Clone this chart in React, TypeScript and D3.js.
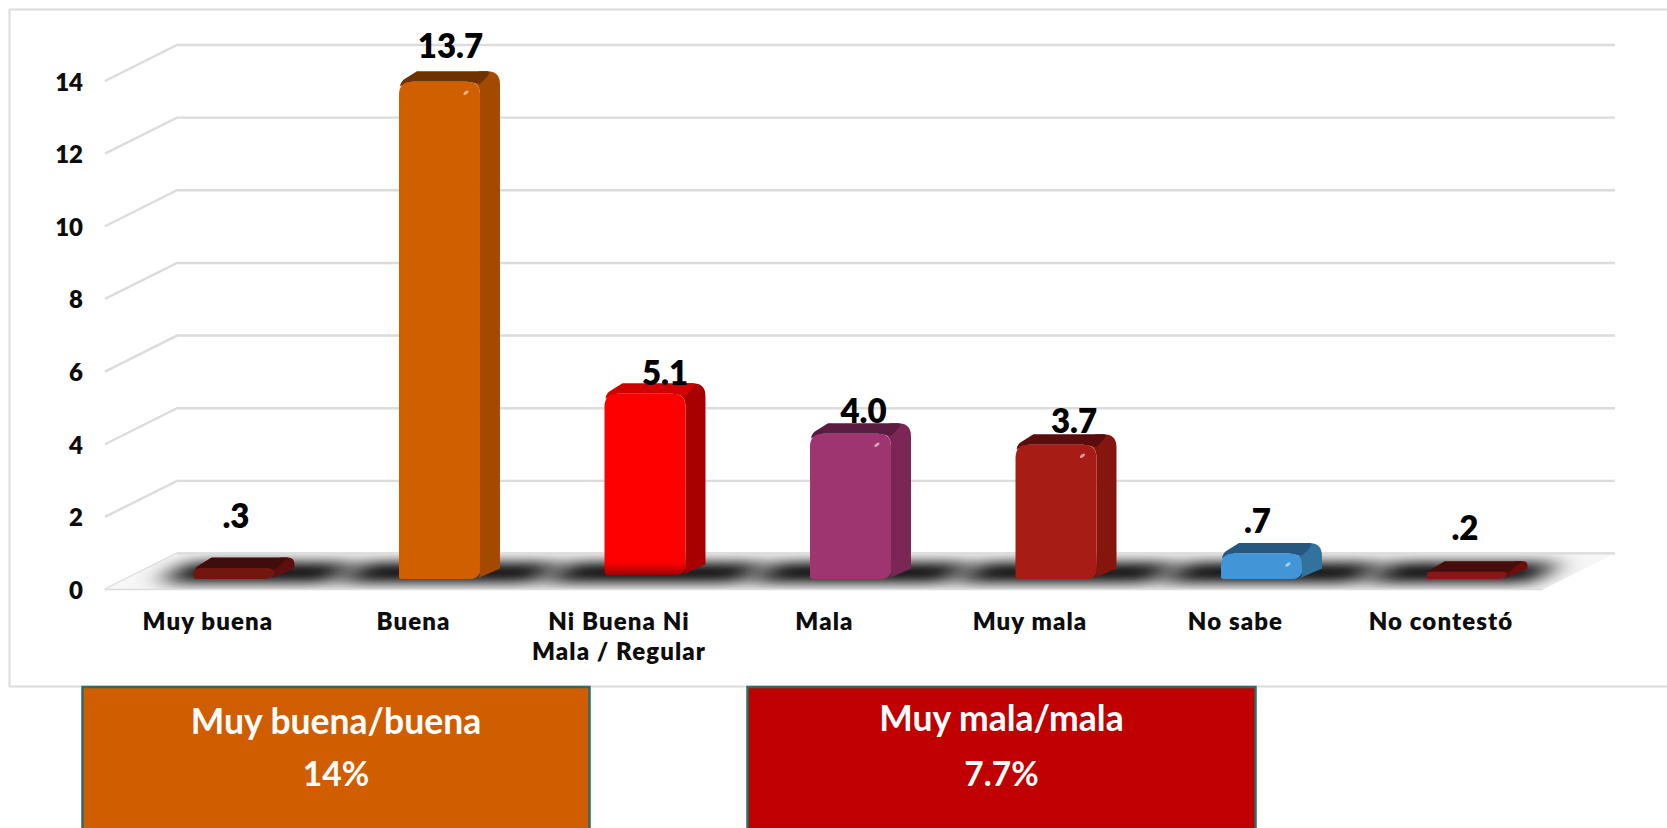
import React from "react";
import * as d3 from "d3";

const categories = ["Muy buena", "Buena", "Ni Buena Ni|Mala / Regular", "Mala", "Muy mala", "No sabe", "No contestó"];
const values = [0.3, 13.7, 5.1, 4.0, 3.7, 0.7, 0.2];
const valueLabels = [".3", "13.7", "5.1", "4.0", "3.7", ".7", ".2"];
const labelDx = [2, 11, 20, 13, 18, -4, -2];
const labelDy = [40, 24, 9, 11, 12, 21, 32];
const frontColors = ["#731410", "#D05E00", "#FF0000", "#9E3470", "#A81C17", "#4396D8", "#8A1712"];
const sideColors = ["#5F100D", "#A44A00", "#A80000", "#7B2856", "#84150F", "#33729F", "#6E110D"];
const topColors = ["#3F0A08", "#6E3200", "#D00000", "#5A1C40", "#5A0E0A", "#27597F", "#470B08"];
const yTicks = [0, 2, 4, 6, 8, 10, 12, 14];
const boxTitles = ["Muy buena/buena", "Muy mala/mala"];
const boxValues = ["14%", "7.7%"];
const boxColors = ["#D05E00", "#C00000"];

const W = 1667, H = 828;
const DX = 72, DY = 36;
const wallLeft = 177, wallRight = 1615;
const backY = d3.scaleLinear().domain([0, 14]).range([553.5, 45]);
const barBase = 579;
const barY = d3.scaleLinear().domain([0, 14]).range([barBase, barBase - 14 * 36.3]);
const xBand = d3.scaleBand<number>().domain(d3.range(7)).range([193.5, 1507.5]).paddingInner(0.606).paddingOuter(0);
const labelFont = "Lato, 'Noto Sans', sans-serif";

function barPaths(x: number, w: number, yTop: number, yBot: number, dx: number, dy: number) {
  const r = Math.min(13, (yBot - yTop) * 0.6);
  const front = `M${x},${yBot - 2} L${x},${yTop + r} Q${x},${yTop} ${x + r},${yTop} L${x + w - r},${yTop} Q${x + w},${yTop} ${x + w},${yTop + r} L${x + w},${yBot - 6} Q${x + w - 3},${yBot} ${x + w - 10},${yBot} L${x + 4},${yBot} Q${x},${yBot} ${x},${yBot - 2} Z`;
  const top = `M${x + 1},${yTop + r * 0.35} Q${x + 2},${yTop - 1} ${x + 6},${yTop - 3} L${x + dx - 2},${yTop - dy} L${x + w + dx - r},${yTop - dy} Q${x + w + dx - 6},${yTop - dy} ${x + w},${yTop + 2} L${x + w - r},${yTop} L${x + r},${yTop} Z`;
  const side = `M${x + w - r * 0.9},${yTop} L${x + w + dx - r - 8},${yTop - dy} L${x + w + dx - r},${yTop - dy} Q${x + w + dx},${yTop - dy} ${x + w + dx},${yTop - dy + r} L${x + w + dx},${yBot - dy} L${x + w - 4},${yBot} Q${x + w},${yBot - 2} ${x + w},${yBot - 6} L${x + w},${yTop + r} Q${x + w},${yTop} ${x + w - r * 0.9},${yTop} Z`;
  return { front, top, side };
}

export default function App() {
  const bw = xBand.bandwidth();
  const floorY0 = backY(0);
  const floorPts = `${wallLeft},${floorY0} ${wallRight},${floorY0} ${wallRight - DX},${floorY0 + DY} ${wallLeft - DX},${floorY0 + DY}`;
  return (
    <svg width={W} height={H} viewBox={`0 0 ${W} ${H}`} style={{ position: "absolute", left: 0, top: 0, display: "block", background: "#fff" }}>
      <defs>
        <filter id="blur" filterUnits="userSpaceOnUse" x="0" y="500" width={W} height="140"><feGaussianBlur stdDeviation="14 7" /></filter>
        <filter id="soft" x="-10%" y="-10%" width="120%" height="120%"><feGaussianBlur stdDeviation="0.6" /></filter>
        <linearGradient id="redFront" x1="0" y1="0" x2="0" y2="1">
          <stop offset="0.93" stopColor="#FF0000" />
          <stop offset="1" stopColor="#A00000" />
        </linearGradient>
        <clipPath id="floor"><polygon points={floorPts} /></clipPath>
      </defs>
      <rect x={9.5} y={9.5} width={1720} height={677} fill="#fff" stroke="#DCDCDC" strokeWidth={2} />
      <g stroke="#DCDCDC" strokeWidth={2.4} fill="none">
        {yTicks.map((t) => (
          <polyline key={t} points={`${wallLeft - DX},${backY(t) + DY} ${wallLeft},${backY(t)} ${wallRight},${backY(t)}`} />
        ))}
      </g>
      <polygon points={floorPts} fill="#F7F7F7" />
      <g clipPath="url(#floor)">
        {categories.map((_, i) => {
          const x = xBand(i) as number;
          const t = floorY0 + 9, b = floorY0 + 29;
          const st = (barBase - t) * 1.6, sb = (barBase - b) * 1.6;
          const l = x - (i === 0 ? 30 : 58), r = x + bw + (i === categories.length - 1 ? 28 : 58);
          return <polygon key={i} points={`${l + st},${t} ${r + st},${t} ${r + sb},${b} ${l + sb},${b}`} fill="#000" filter="url(#blur)" />;
        })}
      </g>
      <line x1={wallLeft} x2={wallRight} y1={floorY0} y2={floorY0} stroke="#DCDCDC" strokeWidth={2} />
      <line x1={wallLeft - DX} x2={wallRight - DX} y1={floorY0 + DY} y2={floorY0 + DY} stroke="#DCDCDC" strokeWidth={1.5} />
      {values.map((v, i) => {
        const x = xBand(i) as number;
        const yTop = barY(v);
        const yBot = i === 2 ? barBase - 4 : barBase;
        const p = barPaths(x, bw, yTop, yBot, 20, 10.5);
        const hx = x + bw - 14, hy = yTop + 11;
        return (
          <g key={i}>
            <g filter="url(#soft)">
              <path d={p.side} fill={sideColors[i]} />
              <path d={p.top} fill={topColors[i]} />
              <path d={p.front} fill={i === 2 ? "url(#redFront)" : frontColors[i]} />
              {v > 0.5 && i !== 2 && <ellipse cx={hx} cy={hy} rx={3} ry={1.5} fill="#fff" opacity={0.55} transform={`rotate(-35 ${hx} ${hy})`} />}
            </g>
            <text x={x + bw / 2 + labelDx[i]} y={yTop - labelDy[i]} textAnchor="middle" fontFamily={labelFont} fontWeight={800} fontSize={33} fill="#000">{valueLabels[i]}</text>
          </g>
        );
      })}
      {yTicks.map((t) => (
        <text key={t} x={83} y={backY(t) + DY + 9.5} textAnchor="end" fontFamily={labelFont} fontWeight={800} fontSize={24} fill="#0d0d0d">{t}</text>
      ))}
      {categories.map((c, i) => (
        <text key={c} textAnchor="middle" fontFamily={labelFont} fontWeight={800} fontSize={24} letterSpacing={1.1} fill="#0d0d0d">
          {c.split("|").map((l, j) => (
            <tspan key={j} x={(xBand(i) as number) + bw / 2 - 26} y={630 + j * 30}>{l}</tspan>
          ))}
        </text>
      ))}
      {boxTitles.map((t, i) => {
        const x = i === 0 ? 82.5 : 747.5;
        const w = i === 0 ? 507 : 508;
        return (
          <g key={t}>
            <rect x={x} y={687} width={w} height={170} fill={boxColors[i]} stroke="#2A6E63" strokeWidth={2.5} />
            <text x={x + w / 2} y={734} dy={i === 0 ? 0 : -3} textAnchor="middle" fontFamily={labelFont} fontWeight={700} fontSize={35.5} fill="#fff">{t}</text>
            <text x={x + w / 2} y={786} textAnchor="middle" fontFamily={labelFont} fontWeight={700} fontSize={33.5} fill="#fff">{boxValues[i]}</text>
          </g>
        );
      })}
    </svg>
  );
}
